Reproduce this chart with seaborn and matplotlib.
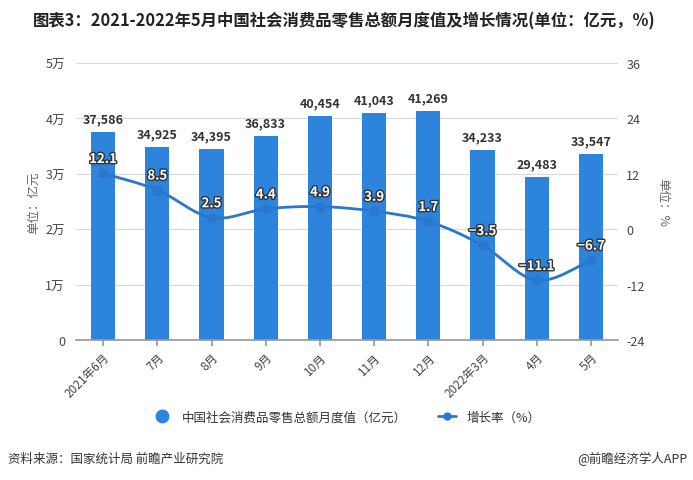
import matplotlib
matplotlib.use("Agg")
import matplotlib.pyplot as plt
import matplotlib.patheffects as pe
from matplotlib.path import Path
from matplotlib.patches import PathPatch
from matplotlib.lines import Line2D
import numpy as np
import pandas as pd
import seaborn as sns

months = ["2021年6月", "7月", "8月", "9月", "10月", "11月", "12月", "2022年3月", "4月", "5月"]
sales = [37586, 34925, 34395, 36833, 40454, 41043, 41269, 34233, 29483, 33547]
growth = [12.1, 8.5, 2.5, 4.4, 4.9, 3.9, 1.7, -3.5, -11.1, -6.7]
left_ticks = [0, 10000, 20000, 30000, 40000, 50000]
left_labels = ["0", "1万", "2万", "3万", "4万", "5万"]
right_ticks = [-24, -12, 0, 12, 24, 36]

sns.set_theme(style="white")
plt.rcParams['font.family'] = ['Noto Sans CJK SC', 'DejaVu Sans']
plt.rcParams['axes.unicode_minus'] = False

bar_color = "#2c84dc"
line_color = "#2a77cc"

fig = plt.figure(figsize=(6.93, 4.81), dpi=100)
ax = fig.add_axes([76 / 693, 1 - 341 / 481, 542 / 693, 277 / 481])

df = pd.DataFrame({"month": months, "sales": sales, "growth": growth})
sns.barplot(data=df, x="month", y="sales", color=bar_color, width=0.45,
            saturation=1, linewidth=0, ax=ax, zorder=2)
ax.set_ylim(0, 50000)
ax.set_yticks(left_ticks)
ax.set_yticklabels(left_labels)
ax.set_xlim(-0.5, len(months) - 0.5)
ax.grid(axis="y", color="#d9d9d9", linewidth=0.8, zorder=0)
for s in ["top", "right", "left"]:
    ax.spines[s].set_visible(False)
ax.spines["bottom"].set_color("#999999")
ax.tick_params(axis="y", length=0, labelsize=9, colors="#444444", pad=8)
ax.tick_params(axis="x", length=4, color="#999999", labelsize=8.5, colors="#444444", bottom=True)
plt.setp(ax.get_xticklabels(), rotation=45, ha="right", rotation_mode="anchor")
ax.set_xlabel("")
ax.set_ylabel("单位：亿元", color="#666666", fontsize=9, labelpad=4)

for i, v in enumerate(sales):
    ax.text(i, v + 1200, f"{v:,}", ha="center", va="bottom", fontsize=9,
            fontweight="bold", color="#333333")

ax2 = ax.twinx()
ax2.set_ylim(-24, 36)
ax2.set_yticks(right_ticks)
ax2.set_yticklabels([str(t) for t in right_ticks])
for s in ["top", "right", "left", "bottom"]:
    ax2.spines[s].set_visible(False)
ax2.tick_params(axis="y", length=0, labelsize=9, colors="#444444", pad=6)
ax2.set_ylabel("单位：%", color="#666666", fontsize=9, rotation=270, labelpad=18)

# smooth curve through the points (Catmull-Rom drawn as bezier segments)
x = np.arange(len(growth), dtype=float)
y = np.array(growth, dtype=float)
verts = [(x[0], y[0])]
codes = [Path.MOVETO]
t = 0.5 / 3
for i in range(len(x) - 1):
    p0 = (x[i - 1], y[i - 1]) if i > 0 else (x[i], y[i])
    p1 = (x[i], y[i])
    p2 = (x[i + 1], y[i + 1])
    p3 = (x[i + 2], y[i + 2]) if i + 2 < len(x) else (x[i + 1], y[i + 1])
    c1 = (p1[0] + (p2[0] - p0[0]) * t, p1[1] + (p2[1] - p0[1]) * t)
    c2 = (p2[0] - (p3[0] - p1[0]) * t, p2[1] - (p3[1] - p1[1]) * t)
    verts += [c1, c2, p2]
    codes += [Path.CURVE4] * 3
ax2.add_patch(PathPatch(Path(verts, codes), facecolor="none", edgecolor=line_color,
                        linewidth=2, zorder=3))
sns.scatterplot(x=x, y=y, color=line_color, s=45, edgecolor=line_color, ax=ax2, zorder=4)

for i, v in enumerate(growth):
    txt = f"{v:.1f}".replace("-", "−")
    ax2.text(i, v + 1.6, txt, ha="center", va="bottom", fontsize=9.5, fontweight="bold",
             color="white", zorder=5,
             path_effects=[pe.withStroke(linewidth=2, foreground="#333333")])

handles = [
    Line2D([], [], marker="o", linestyle="none", color=bar_color, markersize=9),
    Line2D([], [], marker="o", color=line_color, linewidth=2, markersize=5),
]
fig.legend(handles, ["中国社会消费品零售总额月度值（亿元）", "增长率（%）"],
           loc="center", bbox_to_anchor=(0.5, 1 - 418 / 481), ncol=2, frameon=False,
           fontsize=9, handlelength=1.5, columnspacing=2.5, labelcolor="#333333")

fig.text(0.497, 1 - 21 / 481, "图表3：2021-2022年5月中国社会消费品零售总额月度值及增长情况(单位：亿元，%)",
         ha="center", va="center", fontsize=11.8, fontweight="bold", color="#222222")
fig.text(8 / 693, 1 - 459 / 481, "资料来源：国家统计局 前瞻产业研究院", ha="left", va="center",
         fontsize=9, color="#333333")
fig.text(688 / 693, 1 - 459 / 481, "@前瞻经济学人APP", ha="right", va="center",
         fontsize=9, color="#333333")

fig.savefig("out.png", dpi=100)
